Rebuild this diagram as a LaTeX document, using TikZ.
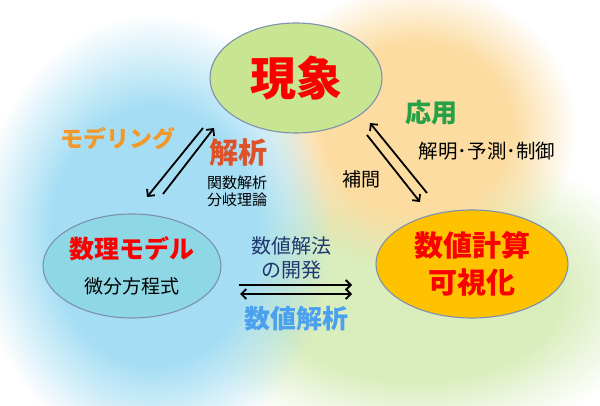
\documentclass[tikz,border=0pt]{standalone}
\usepackage{fontspec}
\newfontfamily\jp{Noto Sans CJK JP}
\usetikzlibrary{shapes.geometric,arrows.meta,fadings}
\definecolor{bgblue}{RGB}{165,222,244}
\definecolor{bgorange}{RGB}{252,220,160}
\definecolor{bggreen}{RGB}{218,237,188}
\definecolor{cphen}{RGB}{200,230,145}
\definecolor{cmodel}{RGB}{142,216,230}
\definecolor{ccomp}{RGB}{255,194,0}
\definecolor{cedge}{RGB}{125,145,172}
\definecolor{cred}{RGB}{250,0,0}
\definecolor{corange}{RGB}{243,152,40}
\definecolor{canal}{RGB}{222,82,42}
\definecolor{cgreen}{RGB}{40,160,72}
\definecolor{cnavy}{RGB}{31,56,110}
\definecolor{clblue}{RGB}{75,160,240}
\pgfdeclareradialshading{blobshade}{\pgfpointorigin}{color(0bp)=(pgftransparent!0); color(14bp)=(pgftransparent!0); color(24bp)=(pgftransparent!100); color(50bp)=(pgftransparent!100)}
\pgfdeclarefading{blob}{\pgfuseshading{blobshade}}
\tikzset{
  bubble/.style={ellipse, draw=cedge, line width=1.1pt, inner sep=0pt, align=center},
  lbl/.style={inner sep=0pt, align=center},
  arr/.style={line width=1.8pt, -{Straight Barb[length=5pt,width=10pt]}},
  arrb/.style={line width=1.8pt, {Straight Barb[length=5pt,width=10pt]}-{Straight Barb[length=5pt,width=10pt]}},
}
\begin{document}
\begin{tikzpicture}[x=1pt,y=-1pt]
\useasboundingbox (0,0) rectangle (600,406);
\fill[white] (0,0) rectangle (600,406);
% soft background blobs
\fill[bggreen, path fading=blob] (415,292) ellipse [x radius=255, y radius=155];
\fill[bgorange, path fading=blob] (418,128) ellipse [x radius=165, y radius=150];
\fill[bgblue, path fading=blob] (154,236) ellipse [x radius=184, y radius=230];
% ellipses
\node[bubble, fill=cphen, minimum width=172pt, minimum height=110pt,
      font=\jp\bfseries\fontsize{46}{50}\selectfont, text=cred] (phen) at (296,78) {現象};
\node[bubble, fill=cmodel, minimum width=178pt, minimum height=104pt,
      font=\jp\fontsize{19}{35}\selectfont] (model) at (132,266)
      {{\bfseries\fontsize{25}{35}\selectfont\color{cred}数理モデル}\\{微分方程式}};
\node[bubble, fill=ccomp, minimum width=192pt, minimum height=108pt,
      font=\jp\bfseries\fontsize{29}{37}\selectfont, text=cred] (comp) at (472,264)
      {数値計算\\可視化};
% labels
\node[lbl, font=\jp\bfseries\fontsize{23}{26}\selectfont, text=corange] (lmod) at (118,139) {モデリング};
\node[lbl, font=\jp\bfseries\fontsize{29}{32}\selectfont, text=canal] (lana) at (238,152) {解析};
\node[lbl, font=\jp\fontsize{15}{17}\selectfont] (lana2) at (237,191) {関数解析\\分岐理論};
\node[lbl, font=\jp\bfseries\fontsize{26}{30}\selectfont, text=cgreen] (lapp) at (431,113) {応用};
\node[lbl, font=\jp\fontsize{19.5}{22}\selectfont] (lapp2) at (487,151) {解明･予測･制御};
\node[lbl, font=\jp\fontsize{19}{22}\selectfont] (lint) at (361,179) {補間};
\node[lbl, font=\jp\fontsize{20}{24}\selectfont, text=cnavy] (ldev) at (291,258) {数値解法\\の開発};
\node[lbl, font=\jp\bfseries\fontsize{26}{30}\selectfont, text=clblue] (lnum) at (296,319) {数値解析};
% arrow end points
\coordinate (a1s) at (203,128); \coordinate (a1e) at (147,197);
\coordinate (a2s) at (163,194); \coordinate (a2e) at (214,128);
\coordinate (b1s) at (427,193); \coordinate (b1e) at (370,123);
\coordinate (b2s) at (367,135); \coordinate (b2e) at (420,202);
\coordinate (c1s) at (239,285); \coordinate (c1e) at (352,285);
\coordinate (c2s) at (240,294); \coordinate (c2e) at (352,294);
\draw[arr] (a1s) -- (a1e);
\draw[arr] (a2s) -- (a2e);
\draw[arr] (b1s) -- (b1e);
\draw[arr] (b2s) -- (b2e);
\draw[arr] (c1s) -- (c1e);
\draw[arrb] (c2s) -- (c2e);
\end{tikzpicture}
\end{document}
